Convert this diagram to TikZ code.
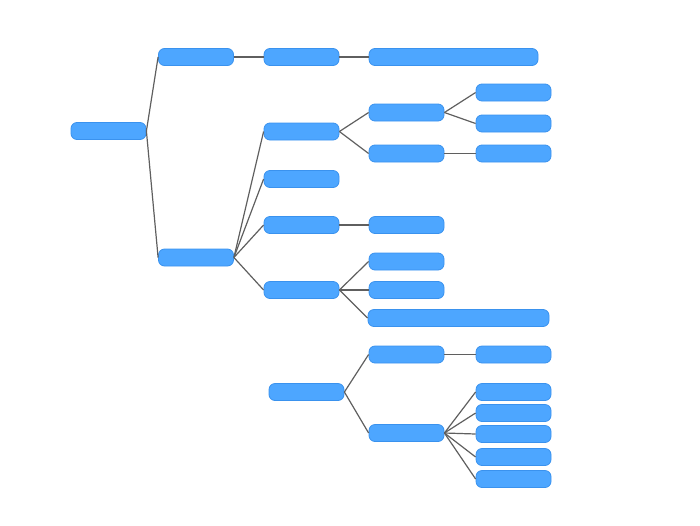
\documentclass[tikz,border=0pt]{standalone}
\usepackage{tikz}
\usepackage{xcolor}
\definecolor{mmblue}{RGB}{77,166,255}
\definecolor{mmedge}{RGB}{58,146,238}
\definecolor{mmgrey}{RGB}{95,95,95}
\tikzset{
  mmbox/.style={draw=mmedge, line width=.8pt, fill=mmblue, rounded corners=6pt, inner sep=0pt, minimum width=75pt, minimum height=17pt},
  mmline/.style={draw=mmgrey, line width=1.2pt}
}

\begin{document}
\begin{tikzpicture}[x=1pt, y=-1pt]
  \useasboundingbox (0,0) rectangle (700,525);
  % first tree
  \node[mmbox] (root) at (108.5,131) {};
  \node[mmbox] (a) at (196,57) {};
  \node[mmbox] (a1) at (301.5,57) {};
  \node[mmbox, minimum width=169pt] (a1a) at (453.5,57) {};
  \node[mmbox] (b) at (196,257.5) {};
  \node[mmbox] (b1) at (301.5,131.5) {};
  \node[mmbox] (b1a) at (406.5,112.5) {};
  \node[mmbox] (b1a1) at (513.5,92.5) {};
  \node[mmbox] (b1a2) at (513.5,123.5) {};
  \node[mmbox] (b1b) at (406.5,153.5) {};
  \node[mmbox] (b1b1) at (513.5,153.5) {};
  \node[mmbox] (b2) at (301.5,179) {};
  \node[mmbox] (b3) at (301.5,225) {};
  \node[mmbox] (b3a) at (406.5,225) {};
  \node[mmbox] (b4) at (301.5,290) {};
  \node[mmbox] (b4a) at (406.5,261.5) {};
  \node[mmbox] (b4b) at (406.5,290) {};
  \node[mmbox, minimum width=181pt] (b4c) at (458.5,318) {};
  % second tree
  \node[mmbox] (c) at (306.5,392) {};
  \node[mmbox] (c1) at (406.5,354.5) {};
  \node[mmbox] (c1a) at (513.5,354.5) {};
  \node[mmbox] (c2) at (406.5,433) {};
  \node[mmbox] (c2a) at (513.5,392) {};
  \node[mmbox] (c2b) at (513.5,413) {};
  \node[mmbox] (c2c) at (513.5,434) {};
  \node[mmbox] (c2d) at (513.5,457) {};
  \node[mmbox] (c2e) at (513.5,479) {};
  % connectors
  \foreach \p/\k in {root/a, root/b, a/a1, a1/a1a, b1/b1a, b1/b1b, b1a/b1a1, b1a/b1a2, b1b/b1b1,
      b3/b3a, b4/b4a, b4/b4b, b4/b4c, c/c1, c/c2, c1/c1a}
    \draw[mmline] (\p.east) -- (\k.west);
  \foreach \k in {b1, b2, b3, b4}
    \draw[mmline] (b.east) -- (\k.west);
  \foreach \k in {c2a, c2b, c2c, c2d, c2e}
    \draw[mmline] (c2.east) -- (\k.west);
\end{tikzpicture}
\end{document}
